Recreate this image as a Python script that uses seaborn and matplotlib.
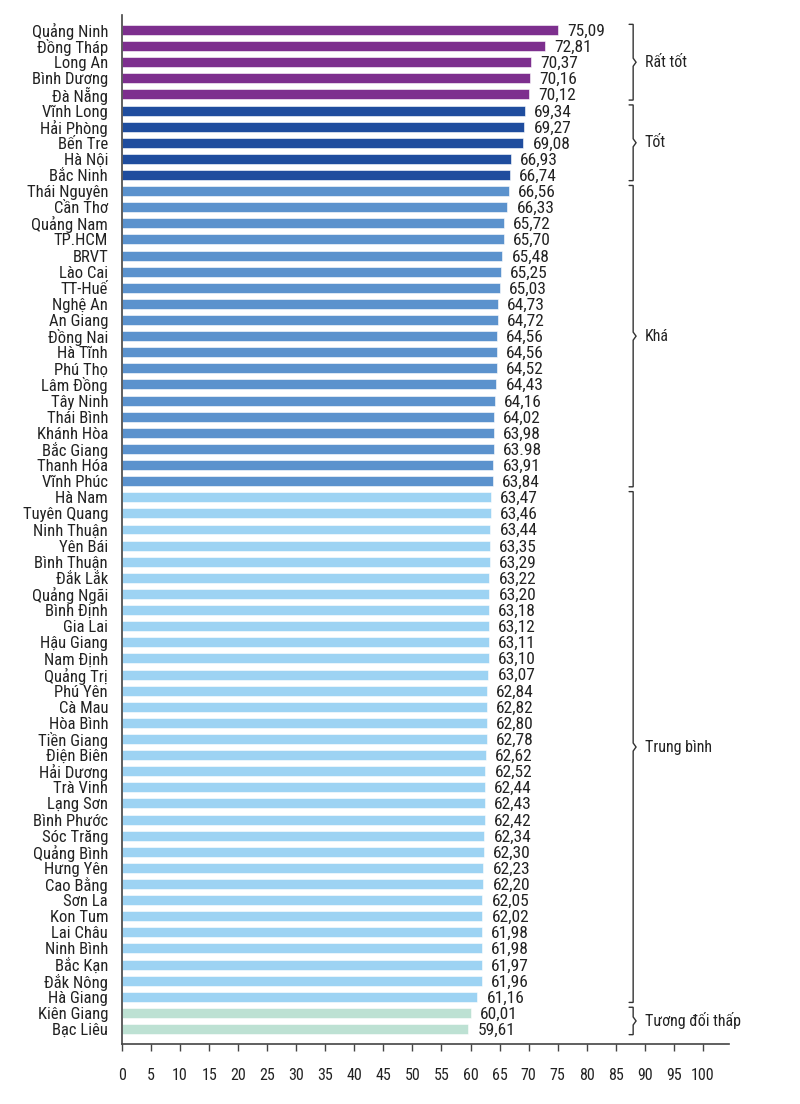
import matplotlib
matplotlib.use("Agg")
import matplotlib.pyplot as plt
import seaborn as sns
import pandas as pd
from matplotlib import font_manager

provinces = ["Quảng Ninh", "Đồng Tháp", "Long An", "Bình Dương", "Đà Nẵng",
             "Vĩnh Long", "Hải Phòng", "Bến Tre", "Hà Nội", "Bắc Ninh",
             "Thái Nguyên", "Cần Thơ", "Quảng Nam", "TP.HCM", "BRVT", "Lào Cai",
             "TT-Huế", "Nghệ An", "An Giang", "Đồng Nai", "Hà Tĩnh", "Phú Thọ",
             "Lâm Đồng", "Tây Ninh", "Thái Bình", "Khánh Hòa", "Bắc Giang",
             "Thanh Hóa", "Vĩnh Phúc",
             "Hà Nam", "Tuyên Quang", "Ninh Thuận", "Yên Bái", "Bình Thuận",
             "Đắk Lắk", "Quảng Ngãi", "Bình Định", "Gia Lai", "Hậu Giang",
             "Nam Định", "Quảng Trị", "Phú Yên", "Cà Mau", "Hòa Bình",
             "Tiền Giang", "Điện Biên", "Hải Dương", "Trà Vinh", "Lạng Sơn",
             "Bình Phước", "Sóc Trăng", "Quảng Bình", "Hưng Yên", "Cao Bằng",
             "Sơn La", "Kon Tum", "Lai Châu", "Ninh Bình", "Bắc Kạn", "Đắk Nông",
             "Hà Giang", "Kiên Giang", "Bạc Liêu"]

scores = [75.09, 72.81, 70.37, 70.16, 70.12,
          69.34, 69.27, 69.08, 66.93, 66.74,
          66.56, 66.33, 65.72, 65.70, 65.48, 65.25,
          65.03, 64.73, 64.72, 64.56, 64.56, 64.52,
          64.43, 64.16, 64.02, 63.98, 63.98,
          63.91, 63.84,
          63.47, 63.46, 63.44, 63.35, 63.29,
          63.22, 63.20, 63.18, 63.12, 63.11,
          63.10, 63.07, 62.84, 62.82, 62.80,
          62.78, 62.62, 62.52, 62.44, 62.43,
          62.42, 62.34, 62.30, 62.23, 62.20,
          62.05, 62.02, 61.98, 61.98, 61.97, 61.96,
          61.16, 60.01, 59.61]

group_names = ["Rất tốt", "Tốt", "Khá", "Trung bình", "Tương đối thấp"]
group_sizes = [5, 5, 19, 32, 2]
group_colors = ["#7d2f8e", "#1f4d9e", "#5b92cd", "#9dd3f3", "#bde1d3"]

xticks = list(range(0, 101, 5))

# value label strings (reference shows "63.98" for Bắc Giang)
value_labels = [f"{v:.2f}".replace(".", ",") for v in scores]
value_labels[26] = "63.98"

groups = []
for g, n in zip(group_names, group_sizes):
    groups += [g] * n

df = pd.DataFrame({"province": provinces, "score": scores, "group": groups})

sns.set_theme(style="white")
avail = {f.name for f in font_manager.fontManager.ttflist}
fam = [f for f in ["Roboto Condensed", "Liberation Sans Narrow", "Roboto", "DejaVu Sans"] if f in avail]
plt.rcParams["font.family"] = fam

fig = plt.figure(figsize=(8, 11.04), dpi=100)
ax = fig.add_axes([0.1525, 0.05435, 0.75875, 0.93206])

sns.barplot(data=df, x="score", y="province", hue="group",
            palette=dict(zip(group_names, group_colors)), dodge=False,
            saturation=1, legend=False, orient="h", width=0.62, ax=ax,
            edgecolor="#ffffff", linewidth=0.4)

n = len(provinces)
ax.set_xlim(0, 104.5)
ax.set_ylim(n - 1 + 0.93, -0.93)
ax.set_xticks(xticks)
ax.set_xticklabels([str(t) for t in xticks])
ax.set_xlabel("")
ax.set_ylabel("")
ax.tick_params(axis="x", direction="out", length=5, width=1, color="#444444",
               pad=12, labelsize=11.5, labelcolor="#222222", bottom=True)
ax.tick_params(axis="y", length=0, pad=10, labelsize=12, labelcolor="#222222")
for s in ["top", "right"]:
    ax.spines[s].set_visible(False)
for s in ["left", "bottom"]:
    ax.spines[s].set_color("#444444")
    ax.spines[s].set_linewidth(1.2)

for i, (v, lab) in enumerate(zip(scores, value_labels)):
    ax.text(v + 1.6, i + 0.08, lab, ha="left", va="center", fontsize=12.5,
            color="#222222")

# brackets
bx = 88.0
start = 0
for g, size in zip(group_names, group_sizes):
    y0 = start - 0.35
    y1 = start + size - 1 + 0.35
    ym = (y0 + y1) / 2
    ax.plot([bx - 0.7, bx, bx, bx + 0.5, bx, bx, bx - 0.7],
            [y0, y0, ym - 0.25, ym, ym + 0.25, y1, y1],
            color="#333333", lw=1.0, clip_on=False, solid_joinstyle="miter")
    ax.text(bx + 2.0, ym, g, ha="left", va="center", fontsize=11.5,
            color="#222222")
    start += size

fig.savefig("out.png", dpi=100)
